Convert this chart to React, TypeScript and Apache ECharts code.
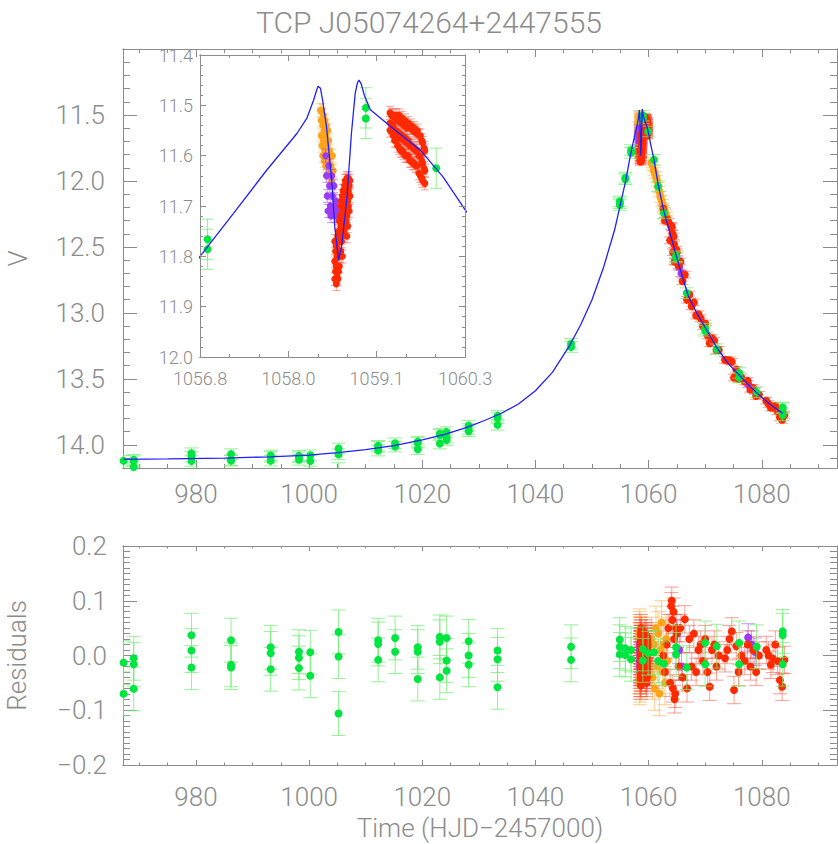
import React, { useEffect, useRef } from "react";
import * as echarts from "echarts";

// ---------------- DATA ----------------
const titleText = "TCP J05074264+2447555";

const mainXTicks = [980, 1000, 1020, 1040, 1060, 1080];
const mainXMinor = [970, 975, 985, 990, 995, 1005, 1010, 1015, 1025, 1030, 1035, 1045, 1050, 1055, 1065, 1070, 1075, 1085, 1090];
const mainYTicks = [11.5, 12.0, 12.5, 13.0, 13.5, 14.0];
const mainYMinor = [11.1, 11.2, 11.3, 11.4, 11.6, 11.7, 11.8, 11.9, 12.1, 12.2, 12.3, 12.4, 12.6, 12.7, 12.8, 12.9, 13.1, 13.2, 13.3, 13.4, 13.6, 13.7, 13.8, 13.9, 14.1];
const resYTicks = [-0.2, -0.1, 0.0, 0.1, 0.2];
const resYMinor = [-0.19, -0.18, -0.17, -0.16, -0.15, -0.14, -0.13, -0.12, -0.11, -0.09, -0.08, -0.07, -0.06, -0.05, -0.04, -0.03, -0.02, -0.01, 0.01, 0.02, 0.03, 0.04, 0.05, 0.06, 0.07, 0.08, 0.09, 0.11, 0.12, 0.13, 0.14, 0.15, 0.16, 0.17, 0.18, 0.19];
const insetXTicks = [1056.8, 1057.967, 1059.133, 1060.3];
const insetXMinor = [1057.189, 1057.578, 1058.356, 1058.744, 1059.522, 1059.911];
const insetYTicks = [11.4, 11.5, 11.6, 11.7, 11.8, 11.9, 12.0];
const insetYMinor = [11.42, 11.44, 11.46, 11.48, 11.52, 11.54, 11.56, 11.58, 11.62, 11.64, 11.66, 11.68, 11.72, 11.74, 11.76, 11.78, 11.82, 11.84, 11.86, 11.88, 11.92, 11.94, 11.96, 11.98];

// model light curve
const modelDays = [967.1, 975, 985, 993, 1000, 1005, 1010, 1015, 1020, 1024, 1028, 1031, 1034, 1037, 1040, 1043, 1046, 1048, 1050, 1052, 1054, 1055, 1056, 1056.8, 1057.24, 1057.68, 1058.08, 1058.21, 1058.3, 1058.34, 1058.36, 1058.39, 1058.42, 1058.47, 1058.54, 1058.58, 1058.63, 1058.67, 1058.74, 1058.8, 1058.85, 1058.88, 1058.9, 1058.93, 1058.97, 1059.05, 1059.35, 1059.71, 1060.01, 1060.3, 1060.95, 1061.7, 1062.7, 1063.8, 1064.85, 1066, 1067, 1068.5, 1070, 1072, 1074, 1076, 1078, 1080, 1082, 1083.7];
const modelV = [14.11, 14.106, 14.1, 14.09, 14.077, 14.058, 14.035, 14.005, 13.962, 13.92, 13.865, 13.815, 13.76, 13.69, 13.59, 13.45, 13.25, 13.09, 12.9, 12.66, 12.37, 12.18, 11.99, 11.8, 11.715, 11.629, 11.556, 11.526, 11.49, 11.47, 11.462, 11.466, 11.49, 11.542, 11.649, 11.741, 11.808, 11.78, 11.685, 11.556, 11.476, 11.455, 11.45, 11.458, 11.48, 11.509, 11.546, 11.589, 11.642, 11.707, 11.84, 12.03, 12.23, 12.4, 12.56, 12.73, 12.87, 13.0, 13.11, 13.26, 13.38, 13.47, 13.56, 13.64, 13.71, 13.76];

// green (survey) points
const greenDays = [967.2, 967.2, 969.0, 969.0, 969.0, 979.2, 979.2, 979.2, 986.2, 986.2, 986.2, 993.2, 993.2, 993.2, 998.2, 998.2, 998.2, 1000.2, 1000.2, 1005.2, 1005.2, 1005.2, 1012.2, 1012.2, 1012.2, 1015.2, 1015.2, 1019.2, 1019.2, 1019.2, 1023.1, 1023.1, 1023.1, 1024.3, 1024.3, 1024.3, 1028.2, 1028.2, 1028.2, 1033.3, 1033.3, 1033.3, 1046.3, 1046.3, 1054.9, 1054.9, 1054.9, 1055.9, 1055.9, 1056.9, 1056.9, 1058.99, 1058.99, 1059.92, 1060.95, 1061.7, 1062.7, 1064.85, 1064.85, 1066.75, 1070.0, 1070.0, 1072.05, 1076.0, 1076.0, 1079.1, 1083.7, 1083.7, 1083.7];
const greenV = [14.12, 14.177, 14.112, 14.123, 14.168, 14.063, 14.091, 14.122, 14.07, 14.115, 14.12, 14.08, 14.091, 14.12, 14.083, 14.094, 14.113, 14.079, 14.122, 14.027, 14.072, 14.176, 14.007, 14.014, 14.043, 13.988, 14.013, 13.975, 13.983, 14.033, 13.916, 13.925, 13.99, 13.903, 13.944, 13.963, 13.854, 13.88, 13.897, 13.78, 13.797, 13.848, 13.234, 13.258, 12.155, 12.168, 12.182, 11.975, 11.987, 11.766, 11.786, 11.505, 11.526, 11.625, 11.84, 12.04, 12.245, 12.57, 12.58, 12.85, 13.12, 13.135, 13.275, 13.455, 13.49, 13.6, 13.716, 13.723, 13.776];
const greenRes = [-0.013, -0.07, -0.005, -0.016, -0.061, 0.037, 0.009, -0.022, 0.028, -0.017, -0.022, 0.015, 0.004, -0.025, 0.007, -0.004, -0.023, 0.006, -0.037, 0.043, -0.002, -0.106, 0.028, 0.021, -0.008, 0.032, 0.007, 0.015, 0.007, -0.043, 0.034, 0.025, -0.04, 0.032, -0.009, -0.028, 0.026, 0.0, -0.017, 0.009, -0.007, -0.058, 0.016, -0.008, 0.029, 0.016, 0.002, 0.013, 0.001, 0.01, -0.007, 0.012, -0.009, 0.004, 0.006, -0.01, -0.015, 0.015, 0.002, -0.022, 0.023, -0.016, 0.017, 0.023, -0.016, 0.016, 0.044, 0.037, -0.016];
const greenErr = 0.04;

// red points: [day, V, residual]
const redDip = [
  [1058.58, 11.77, -0.03], [1058.58, 11.81, -0.045], [1058.58, 11.845, 0.01],
  [1058.59, 11.79, 0.02], [1058.59, 11.83, -0.02],
  [1058.6, 11.78, -0.05], [1058.6, 11.82, 0.02], [1058.6, 11.855, -0.04],
  [1058.61, 11.8, 0.01], [1058.61, 11.84, -0.03],
  [1058.62, 11.76, -0.055], [1058.62, 11.8, 0.03], [1058.62, 11.845, -0.02],
  [1058.63, 11.75, 0.0], [1058.63, 11.79, -0.04], [1058.63, 11.83, 0.025],
  [1058.64, 11.73, 0.04], [1058.64, 11.77, -0.035], [1058.64, 11.82, 0.0],
  [1058.65, 11.72, -0.01], [1058.65, 11.76, 0.015], [1058.65, 11.8, -0.025],
  [1058.66, 11.7, 0.05], [1058.66, 11.74, -0.01], [1058.66, 11.79, 0.025],
  [1058.67, 11.69, 0.0], [1058.67, 11.73, -0.03], [1058.67, 11.77, 0.02],
  [1058.68, 11.68, -0.025], [1058.68, 11.72, 0.035], [1058.68, 11.76, -0.05], [1058.68, 11.8, 0.015],
  [1058.69, 11.67, 0.01], [1058.69, 11.71, -0.02], [1058.69, 11.75, 0.03],
  [1058.7, 11.67, 0.045], [1058.7, 11.71, -0.015], [1058.7, 11.75, 0.02],
  [1058.71, 11.66, -0.03], [1058.71, 11.7, 0.0], [1058.71, 11.74, 0.015],
  [1058.72, 11.65, -0.04], [1058.72, 11.69, 0.01], [1058.72, 11.73, 0.03],
  [1058.73, 11.65, 0.02], [1058.73, 11.69, -0.01], [1058.73, 11.73, 0.0],
  [1058.74, 11.645, -0.005], [1058.74, 11.68, 0.04], [1058.74, 11.72, -0.03], [1058.74, 11.76, 0.005],
  [1058.75, 11.65, 0.015], [1058.75, 11.69, -0.02], [1058.75, 11.74, 0.01],
  [1058.76, 11.645, 0.02], [1058.76, 11.67, -0.02], [1058.76, 11.7, 0.035],
  [1058.77, 11.66, -0.015], [1058.77, 11.71, 0.005],
  [1058.78, 11.65, -0.01], [1058.78, 11.68, 0.025],
];
const redArc = [
  [1059.31, 11.515, 0.03], [1059.31, 11.535, 0.0], [1059.31, 11.55, -0.02],
  [1059.33, 11.52, -0.01], [1059.33, 11.545, 0.02],
  [1059.35, 11.52, 0.02], [1059.35, 11.54, -0.01], [1059.35, 11.56, 0.035],
  [1059.37, 11.525, 0.0], [1059.37, 11.55, -0.025], [1059.37, 11.57, 0.015],
  [1059.39, 11.52, -0.02], [1059.39, 11.55, 0.01], [1059.39, 11.57, -0.03],
  [1059.41, 11.53, 0.03], [1059.41, 11.56, -0.005], [1059.41, 11.58, 0.02],
  [1059.43, 11.52, 0.025], [1059.43, 11.555, -0.015], [1059.43, 11.585, 0.04],
  [1059.45, 11.535, -0.03], [1059.45, 11.565, 0.01], [1059.45, 11.59, -0.01],
  [1059.47, 11.525, -0.04], [1059.47, 11.56, 0.005], [1059.47, 11.59, -0.02],
  [1059.49, 11.54, 0.02], [1059.49, 11.57, -0.02], [1059.49, 11.595, 0.0],
  [1059.51, 11.53, 0.015], [1059.51, 11.565, -0.035], [1059.51, 11.6, 0.02],
  [1059.53, 11.545, -0.015], [1059.53, 11.575, 0.03], [1059.53, 11.6, -0.03],
  [1059.55, 11.535, -0.01], [1059.55, 11.57, 0.03], [1059.55, 11.6, -0.045],
  [1059.57, 11.545, 0.025], [1059.57, 11.58, -0.01], [1059.57, 11.61, 0.01],
  [1059.59, 11.54, 0.0], [1059.59, 11.58, -0.025], [1059.59, 11.61, 0.01],
  [1059.61, 11.55, -0.02], [1059.61, 11.585, 0.015], [1059.61, 11.615, -0.035],
  [1059.63, 11.545, -0.05], [1059.63, 11.585, 0.02], [1059.63, 11.615, -0.01],
  [1059.65, 11.555, 0.01], [1059.65, 11.59, -0.015], [1059.65, 11.62, 0.025],
  [1059.67, 11.55, 0.035], [1059.67, 11.59, -0.03], [1059.67, 11.62, 0.005],
  [1059.69, 11.56, -0.005], [1059.69, 11.6, 0.02], [1059.69, 11.635, -0.025],
  [1059.71, 11.56, -0.02], [1059.71, 11.6, 0.025], [1059.71, 11.64, -0.04],
  [1059.73, 11.57, 0.0], [1059.73, 11.61, -0.02], [1059.73, 11.645, 0.015],
  [1059.74, 11.575, 0.01], [1059.74, 11.615, -0.015], [1059.74, 11.65, 0.03],
  [1059.76, 11.585, -0.01], [1059.76, 11.625, 0.02],
  [1059.77, 11.59, -0.035], [1059.77, 11.63, 0.0], [1059.77, 11.655, 0.02],
];
const redDecline = [
  [1062.6, 12.21, 0.0], [1062.9, 12.3, -0.03], [1063.2, 12.29, 0.02], [1063.5, 12.31, 0.05], [1063.8, 12.45, -0.05],
  [1064.0, 12.34, 0.09], [1064.1, 12.35, 0.1], [1064.2, 12.4, 0.065], [1064.3, 12.54, -0.06], [1064.4, 12.42, 0.08],
  [1064.5, 12.48, 0.03], [1064.6, 12.61, -0.08], [1064.7, 12.61, -0.07], [1064.9, 12.52, 0.05], [1065.0, 12.54, 0.04],
  [1065.3, 12.64, -0.02], [1065.6, 12.61, 0.05], [1066.0, 12.76, -0.04], [1066.4, 12.71, 0.066], [1066.8, 12.9, -0.06],
  [1067.2, 12.86, 0.03], [1067.6, 12.95, -0.02], [1068.0, 12.92, 0.04], [1068.4, 13.02, -0.03], [1068.8, 13.01, 0.01],
  [1069.2, 13.04, 0.02], [1069.6, 13.1, -0.01], [1070.0, 13.08, 0.03], [1070.4, 13.17, -0.03], [1070.8, 13.23, -0.057],
  [1071.2, 13.19, 0.01], [1071.6, 13.21, 0.02], [1072.0, 13.28, -0.02], [1072.4, 13.28, 0.0],
  [1073.5, 13.355, -0.005], [1073.9, 13.36, 0.01], [1074.3, 13.36, 0.03], [1074.7, 13.37, 0.044], [1075.1, 13.49, -0.063],
  [1075.5, 13.43, 0.017], [1075.9, 13.5, -0.03], [1076.4, 13.49, 0.0],
  [1077.0, 13.52, -0.01], [1077.5, 13.515, 0.02], [1078.0, 13.58, -0.02], [1078.5, 13.57, 0.01], [1079.0, 13.63, -0.03], [1079.5, 13.62, 0.0],
  [1080.8, 13.665, 0.01], [1081.2, 13.69, 0.0], [1081.6, 13.717, -0.017], [1082.0, 13.716, -0.006], [1082.4, 13.705, 0.02],
  [1082.8, 13.745, -0.01], [1083.2, 13.79, -0.045], [1083.6, 13.81, -0.057], [1084.0, 13.773, -0.008],
];
const redErr = 0.025;
const redErrInset = 0.013;

// orange points: [day, V, residual]
const orangePeak = [
  [1058.39, 11.51, 0.02], [1058.4, 11.53, -0.03], [1058.4, 11.56, 0.035], [1058.41, 11.51, -0.01], [1058.41, 11.58, 0.04],
  [1058.42, 11.54, -0.04], [1058.42, 11.6, 0.01], [1058.43, 11.52, -0.02], [1058.43, 11.57, 0.03], [1058.44, 11.55, -0.05],
  [1058.44, 11.61, 0.0], [1058.45, 11.53, 0.02], [1058.45, 11.59, -0.03], [1058.46, 11.56, 0.045], [1058.46, 11.62, -0.015],
  [1058.47, 11.54, 0.025], [1058.47, 11.6, -0.01], [1058.48, 11.58, -0.035], [1058.49, 11.55, 0.02], [1058.49, 11.61, 0.015],
  [1058.5, 11.6, -0.045], [1058.5, 11.57, 0.03], [1058.51, 11.63, 0.03], [1058.51, 11.59, -0.02], [1058.52, 11.64, -0.02],
  [1058.53, 11.62, 0.01], [1058.54, 11.65, -0.03], [1058.55, 11.6, 0.02], [1058.56, 11.63, -0.01],
];
const orangeDecline = [
  [1060.5, 11.86, 0.03], [1060.7, 11.88, -0.04], [1060.9, 11.92, 0.02], [1061.1, 11.94, -0.06], [1061.3, 11.97, 0.05],
  [1061.5, 12.0, -0.02], [1061.7, 12.05, 0.04], [1061.9, 12.08, -0.07], [1062.1, 12.12, 0.01], [1062.3, 12.15, 0.06],
  [1062.5, 12.18, -0.03], [1062.7, 12.21, 0.02], [1062.9, 12.24, -0.05], [1063.1, 12.26, 0.03], [1063.3, 12.28, -0.01],
];
const orangeErr = 0.04;
const orangeErrInset = 0.013;

// purple points: [day, V, residual]
const purplePeak = [
  [1058.46, 11.6, 0.01], [1058.47, 11.64, -0.02], [1058.48, 11.68, 0.02], [1058.49, 11.71, -0.01], [1058.5, 11.62, 0.0],
  [1058.51, 11.66, -0.03], [1058.52, 11.7, 0.015], [1058.53, 11.72, -0.01], [1058.54, 11.64, 0.025], [1058.55, 11.68, -0.02],
  [1058.56, 11.71, 0.005], [1058.57, 11.66, -0.015], [1058.58, 11.7, 0.02], [1058.59, 11.72, -0.025], [1058.6, 11.69, 0.01],
  [1058.61, 11.71, -0.005],
];
const purpleDecline = [
  [1065.0, 12.6, 0.04], [1065.4, 12.65, 0.01], [1065.8, 12.7, -0.02],
  [1077.6, 13.54, 0.033], [1078.2, 13.57, 0.02], [1078.8, 13.59, 0.007],
];
const purpleErr = 0.025;
const purpleErrInset = 0.013;

// ---------------- STYLE ----------------
const AXIS_COLOR = "#8c8c8c";
const TEXT_COLOR = "#8c8c8c";
const FONT = "Roboto";
const FONT_WEIGHT = 300;

const fmt1 = (v: number) => v.toFixed(1).replace("-", "\u2212");
const fmt0 = (v: number) => v.toFixed(0);

function axisSet(
  dim: "x" | "y",
  grid: number,
  min: number,
  max: number,
  majors: number[],
  minors: number[],
  majLen: number,
  minLen: number,
  label: any,
  extra: any = {}
) {
  const pos = dim === "x" ? ["bottom", "top"] : ["left", "right"];
  const mk = (position: string, ticks: number[], len: number, withLabel: boolean) => ({
    type: "value",
    gridIndex: grid,
    min,
    max,
    position,
    z: extra.z ?? 0,
    ...(dim === "y" ? { inverse: !!extra.inverse } : {}),
    axisLine: { show: true, onZero: false, lineStyle: { color: AXIS_COLOR, width: 1 } },
    axisTick: { show: true, inside: true, length: len, customValues: ticks, lineStyle: { color: AXIS_COLOR, width: 1 } },
    axisLabel: withLabel
      ? {
          show: true,
          customValues: majors,
          formatter: label.formatter,
          color: TEXT_COLOR,
          fontSize: label.fontSize,
          fontFamily: FONT,
          fontWeight: FONT_WEIGHT,
          margin: label.margin,
        }
      : { show: false },
    splitLine: { show: false },
    minorTick: { show: false },
    ...(withLabel && extra.name
      ? {
          name: extra.name,
          nameLocation: "middle",
          nameGap: extra.nameGap,
          nameTextStyle: { color: TEXT_COLOR, fontSize: extra.nameSize, fontFamily: FONT, fontWeight: FONT_WEIGHT },
        }
      : {}),
  });
  return [
    mk(pos[0], majors, majLen, true),
    mk(pos[0], minors, minLen, false),
    mk(pos[1], majors, majLen, false),
    mk(pos[1], minors, minLen, false),
  ];
}

function errBars(name: string, xi: number, yi: number, data: number[][], color: string, cap: number, z: number) {
  return {
    type: "custom",
    name,
    xAxisIndex: xi,
    yAxisIndex: yi,
    data,
    clip: true,
    silent: true,
    z,
    encode: { x: 0, y: 1 },
    renderItem: (params: any, api: any) => {
      const x = api.value(0);
      const y = api.value(1);
      const e = api.value(2);
      const a = api.coord([x, y - e]);
      const b = api.coord([x, y + e]);
      const st = { stroke: color, lineWidth: 1 };
      return {
        type: "group",
        children: [
          { type: "line", shape: { x1: a[0], y1: a[1], x2: b[0], y2: b[1] }, style: st },
          { type: "line", shape: { x1: a[0] - cap, y1: a[1], x2: a[0] + cap, y2: a[1] }, style: st },
          { type: "line", shape: { x1: b[0] - cap, y1: b[1], x2: b[0] + cap, y2: b[1] }, style: st },
        ],
      };
    },
  };
}

function pts(name: string, xi: number, yi: number, data: number[][], color: string, size: number, z: number) {
  return {
    type: "scatter",
    name,
    xAxisIndex: xi,
    yAxisIndex: yi,
    data: data.map((p) => [p[0], p[1]]),
    symbol: "circle",
    symbolSize: size,
    itemStyle: { color, opacity: 1 },
    clip: true,
    silent: true,
    z,
  };
}

const GREEN = "#00e640";
const GREEN_BAR = "rgba(110,240,110,0.75)";
const RED = "#ff2a00";
const RED_BAR = "rgba(255,80,60,0.55)";
const ORANGE = "#ffa318";
const ORANGE_BAR = "rgba(255,170,60,0.6)";
const PURPLE = "#9b3cf0";
const PURPLE_BAR = "rgba(160,80,240,0.6)";
const BLUE = "#2020ff";

export default function App() {
  const ref = useRef<HTMLDivElement>(null);
  useEffect(() => {
    if (!ref.current) return;
    const chart = echarts.init(ref.current, undefined, { renderer: "svg" });

    const zipV = (d: number[], v: number[], e: number) => d.map((x, i) => [x, v[i], e]);
    const mainOf = (rows: number[][], e: number) => rows.map((r) => [r[0], r[1], e]);
    const resOf = (rows: number[][], e: number) => rows.map((r) => [r[0], r[2], e]);

    const redAll = [...redDip, ...redArc, ...redDecline];
    const orangeAll = [...orangePeak, ...orangeDecline];
    const purpleAll = [...purplePeak, ...purpleDecline];

    const gMain = zipV(greenDays, greenV, greenErr);
    const gRes = zipV(greenDays, greenRes, greenErr);
    const rMain = mainOf(redAll, redErr);
    const rRes = resOf(redAll, redErr);
    const oMain = mainOf(orangeAll, orangeErr);
    const oRes = resOf(orangeAll, orangeErr);
    const pMain = mainOf(purpleAll, purpleErr);
    const pRes = resOf(purpleAll, purpleErr);
    const rIn = mainOf([...redDip, ...redArc], redErrInset);
    const oIn = mainOf(orangePeak, orangeErrInset);
    const pIn = mainOf(purplePeak, purpleErrInset);
    const model = modelDays.map((d, i) => [d, modelV[i]]);

    const xMin = 967.1;
    const xMax = 1093.3;

    const xAxes = [
      ...axisSet("x", 0, xMin, xMax, mainXTicks, mainXMinor, 8, 4, { formatter: fmt0, fontSize: 26, margin: 13 }),
      ...axisSet("x", 1, xMin, xMax, mainXTicks, mainXMinor, 5, 2.5, { formatter: fmt0, fontSize: 26, margin: 19 }, {
        name: "Time (HJD\u22122457000)",
        nameGap: 50,
        nameSize: 26,
      }),
      ...axisSet("x", 2, 1056.8, 1060.3, insetXTicks, insetXMinor, 6, 3, { formatter: fmt1, fontSize: 18, margin: 12 }, { z: 20 }),
    ];
    const yAxes = [
      ...axisSet("y", 0, 11.0, 14.175, mainYTicks, mainYMinor, 14, 7, { formatter: fmt1, fontSize: 26, margin: 18 }, {
        inverse: true,
        name: "V",
        nameGap: 92,
        nameSize: 26,
      }),
      ...axisSet("y", 1, -0.2, 0.2, resYTicks, resYMinor, 14, 7, { formatter: fmt1, fontSize: 26, margin: 16 }, {
        name: "Residuals",
        nameGap: 93,
        nameSize: 26,
      }),
      ...axisSet("y", 2, 11.4, 12.0, insetYTicks, insetYMinor, 6, 3, { formatter: fmt1, fontSize: 18, margin: 7 }, {
        inverse: true,
        z: 20,
      }),
    ];

    const option: any = {
      animation: false,
      backgroundColor: "#ffffff",
      textStyle: { fontFamily: FONT, fontWeight: FONT_WEIGHT },
      title: {
        text: titleText,
        left: 424,
        top: 2,
        textAlign: "center",
        textStyle: { color: TEXT_COLOR, fontSize: 30, fontFamily: FONT, fontWeight: FONT_WEIGHT },
      },
      grid: [
        { left: 123, top: 49, width: 714, height: 419, show: false, containLabel: false, outerBoundsMode: "none" },
        { left: 123, top: 546, width: 714, height: 219, show: false, containLabel: false, outerBoundsMode: "none" },
        {
          left: 200,
          top: 55,
          width: 265,
          height: 302,
          show: true,
          backgroundColor: "#ffffff",
          borderWidth: 0,
          z: 8,
          containLabel: false,
          outerBoundsMode: "none",
        },
      ],
      xAxis: xAxes,
      yAxis: yAxes,
      series: [
        // main panel
        errBars("orangeBarsMain", 0, 0, oMain, ORANGE_BAR, 6, 1),
        pts("orangeMain", 0, 0, oMain, ORANGE, 8, 2),
        errBars("purpleBarsMain", 0, 0, pMain, PURPLE_BAR, 6, 1),
        pts("purpleMain", 0, 0, pMain, PURPLE, 8, 2),
        errBars("redBarsMain", 0, 0, rMain, RED_BAR, 6, 1),
        pts("redMain", 0, 0, rMain, RED, 8, 2),
        errBars("greenBarsMain", 0, 0, gMain, GREEN_BAR, 7, 3),
        pts("greenMain", 0, 0, gMain, GREEN, 8, 3),
        {
          type: "line",
          name: "modelMain",
          xAxisIndex: 0,
          yAxisIndex: 0,
          data: model,
          showSymbol: false,
          symbol: "none",
          lineStyle: { color: BLUE, width: 1.3 },
          clip: true,
          silent: true,
          z: 4,
        },
        // residual panel
        errBars("orangeBarsRes", 4, 4, oRes, ORANGE_BAR, 7, 1),
        pts("orangeRes", 4, 4, oRes, ORANGE, 8, 2),
        errBars("purpleBarsRes", 4, 4, pRes, PURPLE_BAR, 7, 1),
        pts("purpleRes", 4, 4, pRes, PURPLE, 8, 2),
        errBars("redBarsRes", 4, 4, rRes, RED_BAR, 7, 1),
        pts("redRes", 4, 4, rRes, RED, 8, 2),
        errBars("greenBarsRes", 4, 4, gRes, GREEN_BAR, 7, 3),
        pts("greenRes", 4, 4, gRes, GREEN, 8, 3),
        // inset
        errBars("orangeBarsIn", 8, 8, oIn, ORANGE_BAR, 4, 10),
        pts("orangeIn", 8, 8, oIn, ORANGE, 7, 11),
        errBars("purpleBarsIn", 8, 8, pIn, PURPLE_BAR, 4, 12),
        pts("purpleIn", 8, 8, pIn, PURPLE, 7, 12),
        errBars("redBarsIn", 8, 8, rIn, RED_BAR, 4, 12),
        pts("redIn", 8, 8, rIn, RED, 7, 13),
        errBars("greenBarsIn", 8, 8, gMain, GREEN_BAR, 6, 14),
        pts("greenIn", 8, 8, gMain, GREEN, 8, 15),
        {
          type: "line",
          name: "modelInset",
          xAxisIndex: 8,
          yAxisIndex: 8,
          data: model,
          showSymbol: false,
          symbol: "none",
          lineStyle: { color: BLUE, width: 1.3 },
          clip: true,
          silent: true,
          z: 16,
        },
      ],
    };
    chart.setOption(option);
    return () => chart.dispose();
  }, []);

  return (
    <div
      ref={ref}
      style={{ position: "fixed", left: 0, top: 0, width: 838, height: 844, background: "#fff" }}
    />
  );
}
